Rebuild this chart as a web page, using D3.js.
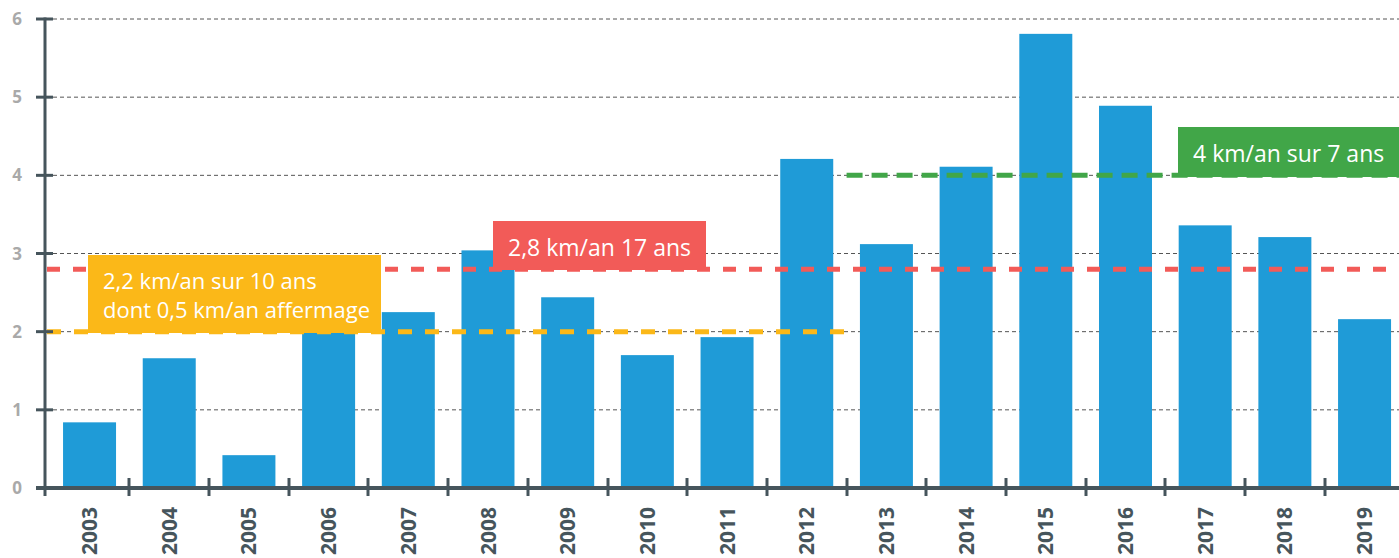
<!DOCTYPE html>
<meta charset="utf-8">
<style>
body { margin: 0; background: #fff; }
</style>
<svg id="svg" width="1399" height="558"></svg>
<script src="https://d3js.org/d3.v7.min.js"></script>
<script>
// data
var years = ["2003","2004","2005","2006","2007","2008","2009","2010","2011","2012","2013","2014","2015","2016","2017","2018","2019"];
var kms = [0.84, 1.66, 0.42, 2.5, 2.25, 3.04, 2.44, 1.70, 1.93, 4.21, 3.12, 4.11, 5.81, 4.89, 3.36, 3.21, 2.16];
var yTicks = [0, 1, 2, 3, 4, 5, 6];

// average lines: value, first year, last year
var averages = [
    { value: 2.8, from: "2003", to: "2019", color: "#f25b58", dash: "13,13" },
    { value: 2.0, from: "2003", to: "2012", color: "#fbb818", dash: "14,13" },
    { value: 4.0, from: "2013", to: "2019", color: "#41a648", dash: "16,9" }
];
var labels = [
    { lines: ["2,2 km/an sur 10 ans", "dont 0,5 km/an affermage"], color: "#fbb818" },
    { lines: ["2,8 km/an 17 ans"], color: "#f25b58" },
    { lines: ["4 km/an sur 7 ans"], color: "#41a648" }
];

var svg = d3.select("svg");
var axisColor = "#46555c";
var font = "'Open Sans', sans-serif";

var x = d3.scaleBand()
    .domain(years)
    .range([49.7, 1404.4])
    .paddingInner(0.335)
    .paddingOuter(0.1675);

var y = d3.scaleLinear()
    .domain([0, 6])
    .range([488, 19]);

// gridlines
svg.append("g")
    .selectAll("line")
    .data(yTicks.slice(1))
    .enter().append("line")
    .attr("x1", 53).attr("x2", 1399)
    .attr("y1", function(d) { return y(d); })
    .attr("y2", function(d) { return y(d); })
    .attr("stroke", "#555")
    .attr("stroke-width", 1)
    .attr("stroke-dasharray", "4,3");

// bars
svg.append("g")
    .selectAll("rect")
    .data(kms)
    .enter().append("rect")
    .attr("x", function(d, i) { return x(years[i]); })
    .attr("width", x.bandwidth())
    .attr("y", function(d) { return y(d); })
    .attr("height", function(d) { return y(0) - y(d); })
    .attr("fill", "#1f9bd7");

// average lines
var step = x.step();
function lineStart(a) { return a.from == years[0] ? 47 : x(a.from) - (step - x.bandwidth()) / 2; }
function lineEnd(a) { return a.to == years[years.length - 1] ? 1399 : x(a.to) + x.bandwidth() + (step - x.bandwidth()) / 2; }

svg.append("g")
    .selectAll("line")
    .data(averages)
    .enter().append("line")
    .attr("x1", lineStart)
    .attr("x2", lineEnd)
    .attr("y1", function(d) { return y(d.value); })
    .attr("y2", function(d) { return y(d.value); })
    .attr("stroke", function(d) { return d.color; })
    .attr("stroke-width", 5)
    .attr("stroke-dasharray", function(d) { return d.dash; });

// axes
var yAxis = svg.append("g").attr("transform", "translate(45,0)");
yAxis.append("line")
    .attr("x1", 0).attr("x2", 0)
    .attr("y1", y(6) - 1.5).attr("y2", y(0) + 8)
    .attr("stroke", axisColor).attr("stroke-width", 3);
yAxis.selectAll(".tick")
    .data(yTicks)
    .enter().append("line")
    .attr("x1", -9).attr("x2", 8)
    .attr("y1", function(d) { return y(d); })
    .attr("y2", function(d) { return y(d); })
    .attr("stroke", axisColor).attr("stroke-width", 3);
yAxis.selectAll("text")
    .data(yTicks)
    .enter().append("text")
    .attr("x", -23)
    .attr("y", function(d) { return y(d); })
    .attr("dy", "0.36em")
    .attr("text-anchor", "end")
    .attr("font-family", font)
    .attr("font-weight", "bold")
    .attr("font-size", 17)
    .attr("fill", "#a9a9a9")
    .text(function(d) { return d; });

svg.append("line")
    .attr("x1", 36).attr("x2", 1399)
    .attr("y1", y(0)).attr("y2", y(0))
    .attr("stroke", axisColor).attr("stroke-width", 4);

// ticks between categories
svg.append("g")
    .selectAll("line")
    .data(years.slice(1))
    .enter().append("line")
    .attr("x1", function(d) { return Math.round(x(d) - (step - x.bandwidth()) / 2); })
    .attr("x2", function(d) { return Math.round(x(d) - (step - x.bandwidth()) / 2); })
    .attr("y1", y(0) - 10).attr("y2", y(0) + 8)
    .attr("stroke", axisColor).attr("stroke-width", 3);

svg.append("g")
    .selectAll("text")
    .data(years)
    .enter().append("text")
    .attr("transform", function(d) { return "translate(" + (x(d) + x.bandwidth() / 2) + ",507) rotate(-90)"; })
    .attr("dy", "0.36em")
    .attr("text-anchor", "end")
    .attr("font-family", font)
    .attr("font-weight", "bold")
    .attr("font-size", 21)
    .attr("fill", axisColor)
    .text(function(d) { return d; });

// annotation boxes
var boxPos = [
    { x: 88, y: 255, w: 293, h: 78, size: 22 },
    { x: 493, y: 221, w: 213, h: 49, size: 23 },
    { x: 1178, y: 127, w: 221, h: 50, size: 23 }
];
var box = svg.append("g")
    .selectAll("g")
    .data(labels)
    .enter().append("g")
    .attr("transform", function(d, i) { return "translate(" + boxPos[i].x + "," + boxPos[i].y + ")"; })
    .attr("font-size", function(d, i) { return boxPos[i].size; });
box.append("rect")
    .attr("width", function(d, i) { return boxPos[i].w; })
    .attr("height", function(d, i) { return boxPos[i].h; })
    .attr("fill", function(d) { return d.color; });
box.selectAll("text")
    .data(function(d) { return d.lines.map(function(t, j) { return { t: t, j: j, n: d.lines.length }; }); })
    .enter().append("text")
    .attr("x", 15)
    .attr("y", function(d) { return d.n == 1 ? 35 : 34 + d.j * 29; })
    .attr("font-family", font)
    .attr("fill", "#fff")
    .text(function(d) { return d.t; });
</script>
